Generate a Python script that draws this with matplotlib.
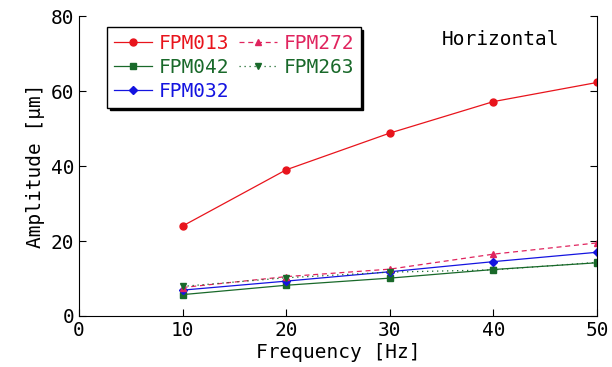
import matplotlib
matplotlib.use("Agg")
import matplotlib.pyplot as plt

plt.rcParams['font.family'] = ['DejaVu Sans Mono']

freq = [10, 20, 30, 40, 50]
fpm013 = [24.0, 39.0, 48.8, 57.2, 62.3]
fpm042 = [5.7, 8.2, 10.1, 12.4, 14.2]
fpm032 = [6.9, 9.3, 11.8, 14.5, 17.0]
fpm272 = [7.6, 10.5, 12.5, 16.5, 19.5]
fpm263 = [7.9, 10.2, 11.7, 12.3, 14.3]

red = '#e8141c'
green = '#19692a'
blue = '#1414e0'
pink = '#e0245e'

fig = plt.figure(figsize=(6.12, 3.67), dpi=100)
ax = fig.add_axes([0.129, 0.139, 0.8465, 0.817])

ax.plot(freq, fpm013, color=red, lw=0.9, marker='o', ms=5, label='FPM013')
ax.plot(freq, fpm042, color=green, lw=0.9, marker='s', ms=5, label='FPM042')
ax.plot(freq, fpm032, color=blue, lw=0.9, marker='D', ms=4, label='FPM032')
ax.plot(freq, fpm272, color=pink, lw=0.9, ls=(0, (4, 3)), marker='^', ms=5, label='FPM272')
ax.plot(freq, fpm263, color=green, lw=0.9, ls=(0, (1, 3)), marker='v', ms=5, label='FPM263')

ax.set_xlim(0, 50)
ax.set_ylim(0, 80)
ax.set_xticks([0, 10, 20, 30, 40, 50])
ax.set_yticks([0, 20, 40, 60, 80])
ax.spines['top'].set_visible(False)
ax.tick_params(direction='in', length=5, labelsize=14, right=True, top=False)
ax.set_xlabel('Frequency [Hz]', fontsize=14, labelpad=2)
ax.set_ylabel('Amplitude [μm]', fontsize=14, labelpad=4)

ax.text(0.813, 0.923, 'Horizontal', transform=ax.transAxes, ha='center', va='center', fontsize=14)

handles, labels = ax.get_legend_handles_labels()
leg = ax.legend(handles, labels, ncol=2,
                loc='upper left', bbox_to_anchor=(0.035, 0.995), fontsize=14,
                frameon=True, fancybox=False, shadow={'color': 'k', 'alpha': 1},
                edgecolor='k', handlelength=2.0, handletextpad=0.3,
                columnspacing=0.5, borderpad=0.35, labelspacing=0.25)
leg.get_frame().set_linewidth(1.0)
for t, c in zip(leg.get_texts(), [red, green, blue, pink, green]):
    t.set_color(c)

fig.savefig('out.png', dpi=100)
